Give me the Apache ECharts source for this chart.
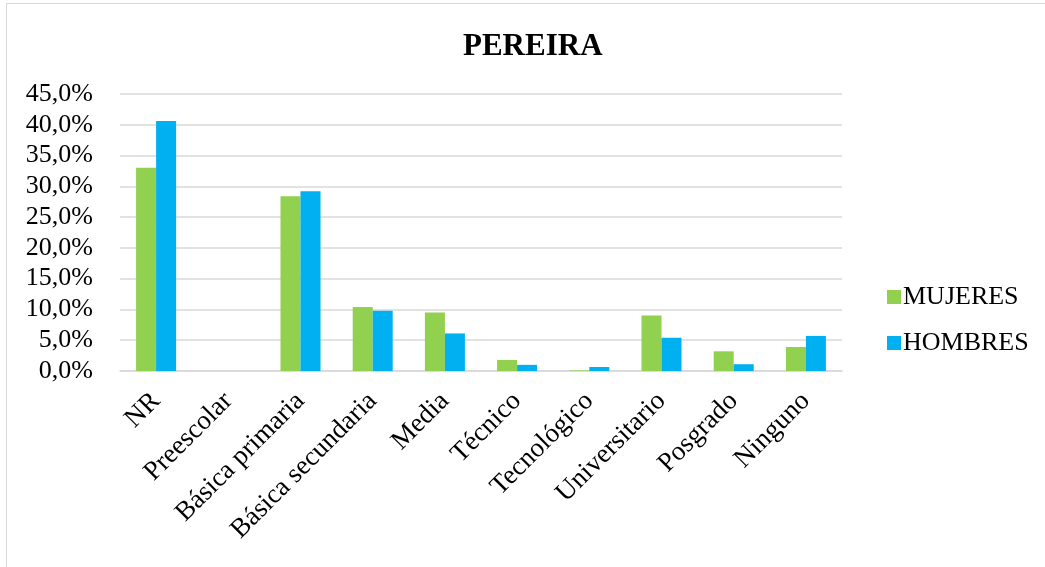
<!DOCTYPE html>
<html lang="es">
<head>
    <meta charset="UTF-8">
    <title>PEREIRA</title>
    <script src="https://cdn.jsdelivr.net/npm/echarts@6/dist/echarts.min.js"></script>
    <style>
        html, body { margin: 0; padding: 0; background: #fff; }
        .frame {
            position: absolute;
            left: 6px;
            top: 3px;
            width: 1100px;
            height: 600px;
            border: 1px solid #d9d9d9;
        }
        #charts { position: absolute; left: 0; top: 0; width: 1045px; height: 567px; }
    </style>
</head>
<body>
<div class="frame"></div>
<div id="charts"></div>
<script>
    var categories = ['NR', 'Preescolar', 'Básica primaria', 'Básica secundaria', 'Media',
        'Técnico', 'Tecnológico', 'Universitario', 'Posgrado', 'Ninguno'];
    var mujeres = [33.0, 0, 28.4, 10.4, 9.5, 1.8, 0.1, 9.0, 3.2, 3.9];
    var hombres = [40.6, 0, 29.2, 9.8, 6.1, 1.0, 0.65, 5.4, 1.1, 5.7];

    var font = '"Liberation Serif", "Times New Roman", serif';
    var myChart = echarts.init(document.getElementById('charts'));

    var option = {
        animation: false,
        title: {
            text: 'PEREIRA',
            left: 458,
            top: 26,
            textStyle: { fontFamily: font, fontSize: 31, fontWeight: 'bold', color: '#000' }
        },
        legend: {
            orient: 'vertical',
            left: 882,
            top: 279,
            itemWidth: 14,
            itemHeight: 14,
            itemGap: 20,
            icon: 'rect',
            textStyle: { fontFamily: font, fontSize: 26, color: '#000', padding: [0, 0, 0, -3] },
            data: ['MUJERES', 'HOMBRES']
        },
        grid: { left: 120, right: 203, top: 94, bottom: 196 },
        xAxis: {
            type: 'category',
            data: categories,
            axisLine: { lineStyle: { color: '#d9d9d9', width: 1.5 } },
            axisTick: { show: false },
            axisLabel: {
                rotate: 45,
                interval: 0,
                margin: 26,
                fontFamily: font,
                fontSize: 27,
                color: '#000'
            }
        },
        yAxis: {
            type: 'value',
            min: 0,
            max: 45,
            interval: 5,
            axisLine: { show: false },
            axisTick: { show: false },
            splitLine: { lineStyle: { color: '#d9d9d9', width: 1.5 } },
            axisLabel: {
                margin: 27,
                fontFamily: font,
                fontSize: 26,
                color: '#000',
                formatter: function (v) { return v.toFixed(1).replace('.', ',') + '%'; }
            }
        },
        series: [
            {
                name: 'MUJERES',
                type: 'bar',
                data: mujeres,
                barWidth: 20,
                barGap: '0%',
                itemStyle: { color: '#92D050' }
            },
            {
                name: 'HOMBRES',
                type: 'bar',
                data: hombres,
                barWidth: 20,
                itemStyle: { color: '#00B0F0' }
            }
        ]
    };
    myChart.setOption(option);
</script>
</body>
</html>
